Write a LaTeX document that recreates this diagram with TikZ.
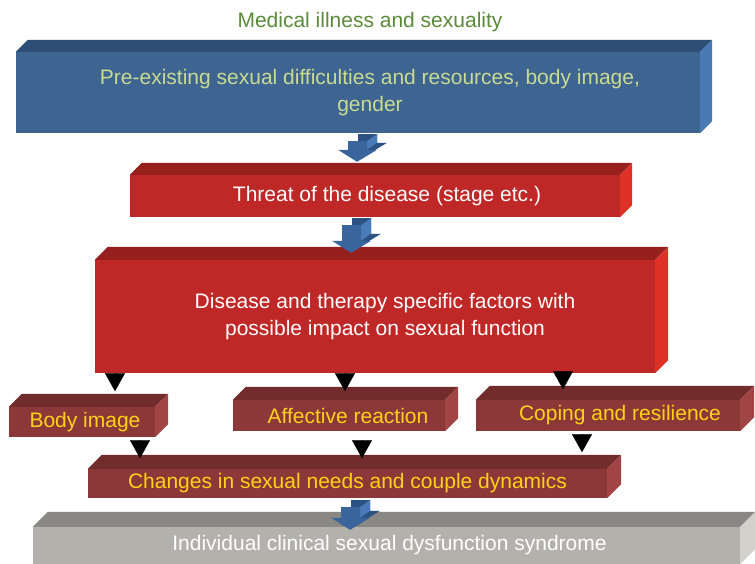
\documentclass[tikz,border=0pt]{standalone}
\usepackage{fontspec}
\setmainfont{Liberation Sans}
\usetikzlibrary{arrows.meta,calc,positioning}

\definecolor{bluefront}{HTML}{3E6491}
\definecolor{bluetop}{HTML}{2D4E75}
\definecolor{blueside}{HTML}{4A7AB3}
\definecolor{arrowfront}{HTML}{3A659C}
\definecolor{arrowside}{HTML}{4A7BB8}
\definecolor{arrowtop}{HTML}{2C5283}
\definecolor{redfront}{HTML}{BF2826}
\definecolor{redtop}{HTML}{97201E}
\definecolor{redside}{HTML}{DD3126}
\definecolor{wine}{HTML}{8C3838}
\definecolor{winetop}{HTML}{722C2C}
\definecolor{wineside}{HTML}{A24444}
\definecolor{greyfront}{HTML}{B2B1AB}
\definecolor{greytop}{HTML}{8A8884}
\definecolor{greyside}{HTML}{D2D1CB}
\definecolor{titlegreen}{HTML}{5B8A3A}
\definecolor{paletext}{HTML}{C9DB91}
\definecolor{gold}{HTML}{FFD21A}

% top and right faces of a box node: #1 node, #2 depth, #3 top, #4 side
\newcommand{\boxfaces}[4]{%
  \fill[#3] (#1.north west) -- ++(#2,-#2) -- ($(#1.north east)+(#2,-#2)$)
    -- (#1.north east) -- cycle;
  \fill[#4] (#1.north east) -- ++(#2,-#2) -- ($(#1.south east)+(#2,-#2)$)
    -- (#1.south east) -- cycle;}

% solid block arrow: #1 top of the shaft, #2 tip
\newcommand{\blockarrow}[2]{%
  \fill[arrowtop] let \p1=#1, \p2=#2 in
    (\x2+1pt,\y1+7pt) -- (\x2+20pt,\y1+7pt) -- (\x2+20pt,\y2+19pt)
    -- (\x2+30pt,\y2+19pt) -- (\x2+10pt,\y2+7pt) -- (\x2-9pt,\y2+19pt)
    -- (\x2+1pt,\y2+19pt) -- cycle;
  \fill[arrowside] let \p1=#1, \p2=#2 in
    (\x2+10pt,\y1) -- (\x2+20pt,\y1+7pt) -- (\x2+20pt,\y2+19pt)
    -- (\x2+10pt,\y2+12pt) -- cycle;
  \fill[arrowfront] let \p1=#1, \p2=#2 in
    (\x2-9pt,\y1) -- (\x2+10pt,\y1) -- (\x2+10pt,\y2+12pt)
    -- (\x2+20pt,\y2+12pt) -- (\x2,\y2) -- (\x2-19pt,\y2+12pt)
    -- (\x2-9pt,\y2+12pt) -- cycle;}

\begin{document}
\begin{tikzpicture}
[x=1pt,y=-1pt,
 slab/.style={inner sep=0pt,align=center,font=\fontsize{21}{27}\selectfont},
 bluebox/.style={slab,fill=bluefront,text=paletext},
 redbox/.style={slab,fill=redfront,text=white},
 winebox/.style={slab,fill=wine,text=gold},
 greybox/.style={slab,fill=greyfront,text=white},
 tip/.style={line width=0.1pt,-{Triangle[length=18pt,width=20pt]}}]

\useasboundingbox (0,0) rectangle (755,564);

\node[text=titlegreen,font=\fontsize{21}{25}\selectfont] (title) at (370,22)
{Medical illness and sexuality};

\node[bluebox,minimum width=684,minimum height=81] (pre) at (358,92.5)
{\hspace{24pt}Pre-existing sexual difficulties and resources, body image,\\
 \hspace{24pt}gender};
\boxfaces{pre}{12}{bluetop}{blueside}

\node[redbox,minimum width=490,minimum height=42] (threat) at (375,196)
{\hspace{24pt}Threat of the disease (stage etc.)};
\boxfaces{threat}{12}{redtop}{redside}

\node[redbox,minimum width=560,minimum height=113] (dis) at (375,316.5)
{\hspace{20pt}Disease and therapy specific factors with\\
 \hspace{20pt}possible impact on sexual function};
\boxfaces{dis}{13}{redtop}{redside}

\node[winebox,minimum width=146,minimum height=30] (body) at (82,422)
{\hspace{6pt}Body image};
\boxfaces{body}{13}{winetop}{wineside}
\node[winebox,minimum width=212,minimum height=31] (aff) at (339,415.5)
{\hspace{18pt}Affective reaction};
\boxfaces{aff}{13}{winetop}{wineside}
\node[winebox,minimum width=264,minimum height=31] (cope) at (608,415.5)
{\hspace{24pt}Coping and resilience};
\boxfaces{cope}{14}{winetop}{wineside}

\node[winebox,minimum width=519,minimum height=29] (chg) at (347.5,483.5)
{Changes in sexual needs and couple dynamics};
\boxfaces{chg}{14}{winetop}{wineside}

\node[greybox,minimum width=707,minimum height=37] (syn) at (386.5,545.5)
{\hspace{6pt}Individual clinical sexual dysfunction syndrome};
\boxfaces{syn}{15}{greytop}{greyside}

% triangles
\draw[tip] ([xshift=33pt]body.north |- dis.south) -- ++(0,18);
\draw[tip] ([xshift=6pt]aff.north |- dis.south) -- ++(0,18);
\draw[tip] ([xshift=-45pt]cope.north |- dis.south) ++(0,-2) -- ++(0,18);
\draw[tip] ([xshift=58pt]body.south) ++(0,3) -- ++(0,18);
\draw[tip] ([xshift=23pt]aff.south) ++(0,9) -- ++(0,18);
\draw[tip] ([xshift=-26pt]cope.south) ++(0,3) -- ++(0,18);

% block arrows
\blockarrow{($(pre.south)+(-1,8)$)}{($(threat.north -| pre.south)+(-1,-13)$)}
\blockarrow{($(threat.south)+(-24,8)$)}{($(dis.north -| threat.south)+(-24,-7)$)}
\blockarrow{($(chg.south)+(2.5,9)$)}{($(syn.north -| chg.south)+(2.5,3)$)}
\end{tikzpicture}
\end{document}
